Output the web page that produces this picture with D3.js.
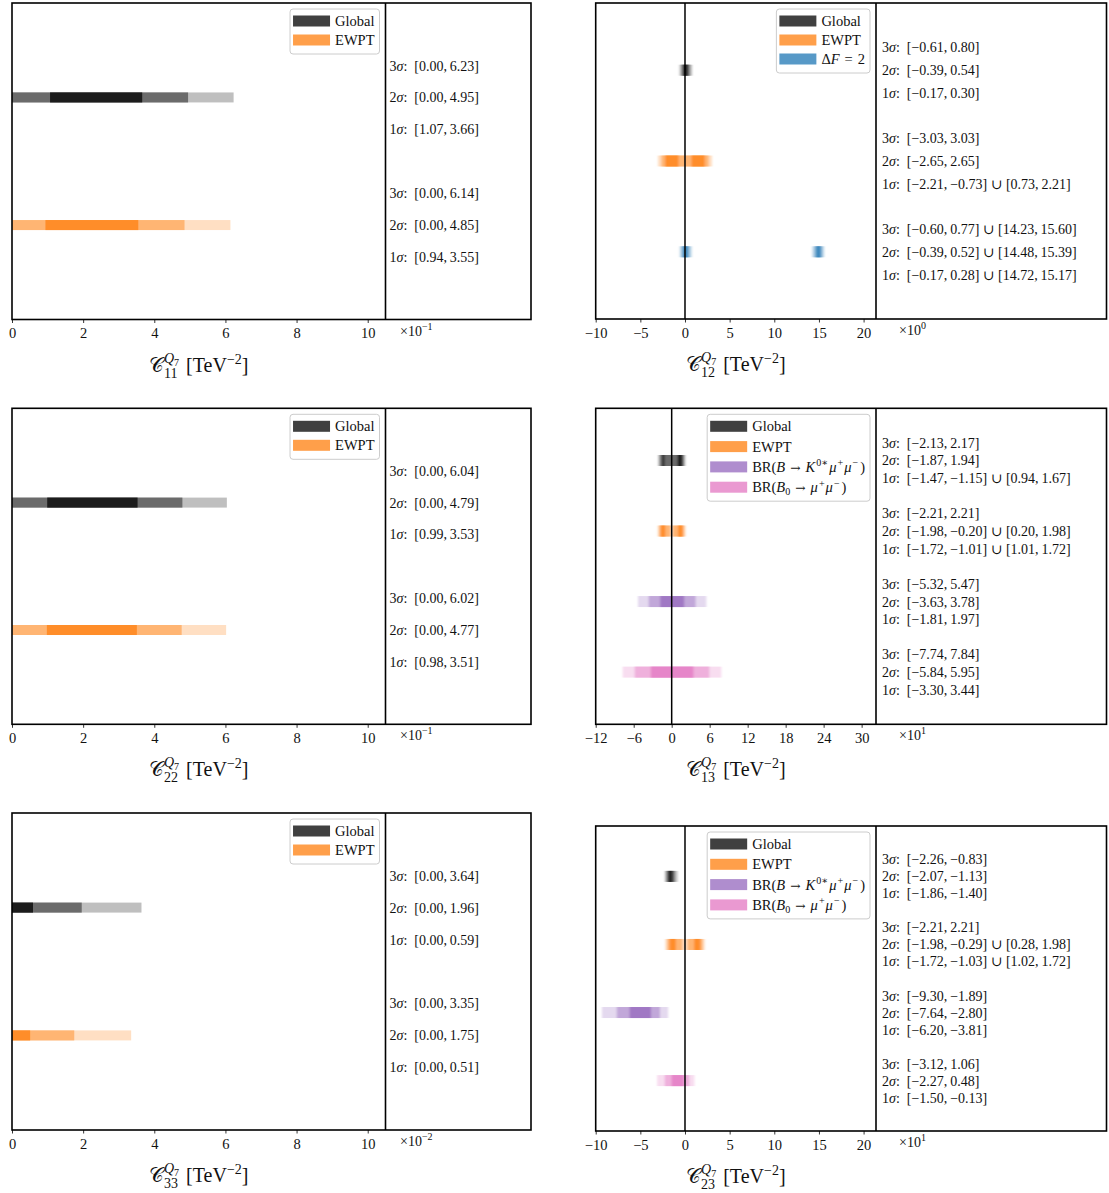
<!DOCTYPE html>
<html>
<head>
<meta charset="utf-8">
<script src="https://cdn.jsdelivr.net/npm/d3@7"></script>
<style>
  body { margin: 0; background: #fff; }
  text { font-family: "Liberation Serif", "DejaVu Serif", serif; fill: #111; }
</style>
</head>
<body>
<svg id="chart" width="1109" height="1193"></svg>
<script>
// sigma levels, drawn from the widest to the narrowest
var levels = ["3", "2", "1"];
var levelAlpha = [0.25, 0.58, 0.89];

// series and their base colours
var seriesNames = ["Global", "EWPT", "ΔF = 2", "BR(B → K0*μμ)", "BR(B0 → μμ)"];
var seriesColors = ["#000000", "#ff7f0e", "#1f77b4", "#9467bd", "#e377c2"];

// C11 (x 10^-1)
var c11Series = ["Global", "EWPT"];
var c11Sigma3 = [[[0.00, 6.23]], [[0.00, 6.14]]];
var c11Sigma2 = [[[0.00, 4.95]], [[0.00, 4.85]]];
var c11Sigma1 = [[[1.07, 3.66]], [[0.94, 3.55]]];
var c11Ticks = [0, 2, 4, 6, 8, 10];

// C12 (x 10^0)
var c12Series = ["Global", "EWPT", "ΔF = 2"];
var c12Sigma3 = [[[-0.61, 0.80]], [[-3.03, 3.03]], [[-0.60, 0.77], [14.23, 15.60]]];
var c12Sigma2 = [[[-0.39, 0.54]], [[-2.65, 2.65]], [[-0.39, 0.52], [14.48, 15.39]]];
var c12Sigma1 = [[[-0.17, 0.30]], [[-2.21, -0.73], [0.73, 2.21]], [[-0.17, 0.28], [14.72, 15.17]]];
var c12Ticks = [-10, -5, 0, 5, 10, 15, 20];

// C22 (x 10^-1)
var c22Series = ["Global", "EWPT"];
var c22Sigma3 = [[[0.00, 6.04]], [[0.00, 6.02]]];
var c22Sigma2 = [[[0.00, 4.79]], [[0.00, 4.77]]];
var c22Sigma1 = [[[0.99, 3.53]], [[0.98, 3.51]]];
var c22Ticks = [0, 2, 4, 6, 8, 10];

// C13 (x 10^1)
var c13Series = ["Global", "EWPT", "BR(B → K0*μμ)", "BR(B0 → μμ)"];
var c13Sigma3 = [[[-2.13, 2.17]], [[-2.21, 2.21]], [[-5.32, 5.47]], [[-7.74, 7.84]]];
var c13Sigma2 = [[[-1.87, 1.94]], [[-1.98, -0.20], [0.20, 1.98]], [[-3.63, 3.78]], [[-5.84, 5.95]]];
var c13Sigma1 = [[[-1.47, -1.15], [0.94, 1.67]], [[-1.72, -1.01], [1.01, 1.72]], [[-1.81, 1.97]], [[-3.30, 3.44]]];
var c13Ticks = [-12, -6, 0, 6, 12, 18, 24, 30];

// C33 (x 10^-2)
var c33Series = ["Global", "EWPT"];
var c33Sigma3 = [[[0.00, 3.64]], [[0.00, 3.35]]];
var c33Sigma2 = [[[0.00, 1.96]], [[0.00, 1.75]]];
var c33Sigma1 = [[[0.00, 0.59]], [[0.00, 0.51]]];
var c33Ticks = [0, 2, 4, 6, 8, 10];

// C23 (x 10^1)
var c23Series = ["Global", "EWPT", "BR(B → K0*μμ)", "BR(B0 → μμ)"];
var c23Sigma3 = [[[-2.26, -0.83]], [[-2.21, 2.21]], [[-9.30, -1.89]], [[-3.12, 1.06]]];
var c23Sigma2 = [[[-2.07, -1.13]], [[-1.98, -0.29], [0.28, 1.98]], [[-7.64, -2.80]], [[-2.27, 0.48]]];
var c23Sigma1 = [[[-1.86, -1.40]], [[-1.72, -1.03], [1.02, 1.72]], [[-6.20, -3.81]], [[-1.50, -0.13]]];
var c23Ticks = [-10, -5, 0, 5, 10, 15, 20];

// legend labels with a bit of math markup (dx = extra math spacing)
var legendMath = {
    "Global": [{t: "Global"}],
    "EWPT": [{t: "EWPT"}],
    "ΔF = 2": [{t: "Δ"}, {t: "F", i: 1}, {t: "=", dx: 5}, {t: "2", dx: 5}],
    "BR(B → K0*μμ)": [{t: "BR("}, {t: "B", i: 1}, {t: "→", big: 1, dx: 5}, {t: "K", i: 1, dx: 5},
        {t: "0∗", sup: 1, dx: 1}, {t: "μ", i: 1, dx: 1}, {t: "+", sup: 1, dx: 1}, {t: "μ", i: 1, dx: 1},
        {t: "−", sup: 1, dx: 1}, {t: ")", dx: 2}],
    "BR(B0 → μμ)": [{t: "BR("}, {t: "B", i: 1}, {t: "0", sub: 1}, {t: "→", big: 1, dx: 5},
        {t: "μ", i: 1, dx: 5}, {t: "+", sup: 1, dx: 1}, {t: "μ", i: 1, dx: 1}, {t: "−", sup: 1, dx: 1},
        {t: ")", dx: 2}]
};

var leftCol = {left: 12, right: 531, div: 385.5, textX: 389.5, offX: 400, barH: 10};
var rightCol = {left: 595.7, right: 1106.5, div: 876, textX: 882, offX: 899, barH: 11};

var panels = [
    {col: leftCol, top: 3, bottom: 319.5, domain: [0, 10.5], sub: "11", exp: "−1", zero: false,
        series: c11Series, s3: c11Sigma3, s2: c11Sigma2, s1: c11Sigma1, ticks: c11Ticks},
    {col: rightCol, top: 3, bottom: 319, domain: [-10, 21.39], sub: "12", exp: "0", zero: true,
        series: c12Series, s3: c12Sigma3, s2: c12Sigma2, s1: c12Sigma1, ticks: c12Ticks},
    {col: leftCol, top: 408.3, bottom: 724.3, domain: [0, 10.5], sub: "22", exp: "−1", zero: false,
        series: c22Series, s3: c22Sigma3, s2: c22Sigma2, s1: c22Sigma1, ticks: c22Ticks},
    {col: rightCol, top: 408.3, bottom: 724.3, domain: [-12, 32.27], sub: "13", exp: "1", zero: true,
        series: c13Series, s3: c13Sigma3, s2: c13Sigma2, s1: c13Sigma1, ticks: c13Ticks},
    {col: leftCol, top: 813, bottom: 1130, domain: [0, 10.5], sub: "33", exp: "−2", zero: false,
        series: c33Series, s3: c33Sigma3, s2: c33Sigma2, s1: c33Sigma1, ticks: c33Ticks},
    {col: rightCol, top: 826, bottom: 1131, domain: [-10, 21.39], sub: "23", exp: "1", zero: true,
        series: c23Series, s3: c23Sigma3, s2: c23Sigma2, s1: c23Sigma1, ticks: c23Ticks}
];

var svg = d3.select("#chart");
var fmt = d3.format(".2f");

svg.append("defs").append("filter")
    .attr("id", "soft")
    .attr("x", "-20%").attr("width", "140%")
    .append("feGaussianBlur")
    .attr("stdDeviation", "1.1 0");

function colorOf(name) {
    return seriesColors[seriesNames.indexOf(name)];
}

// writes text segments with italics / super / subscripts, returns extra dx used
function richText(sel, segs, size) {
    var shift = 0, extra = 0;
    segs.forEach(function (s) {
        var target = s.sup ? -0.38 * size : (s.sub ? 0.22 * size : 0);
        var ts = sel.append("tspan").text(s.t);
        if (target - shift !== 0) ts.attr("dy", target - shift);
        if (s.dx) { ts.attr("dx", s.dx); extra += s.dx; }
        if (s.sup || s.sub) ts.style("font-size", (0.7 * size) + "px");
        if (s.big) ts.style("font-family", "DejaVu Serif, serif").style("font-size", (0.85 * size) + "px");
        if (s.i) ts.style("font-style", "italic");
        shift = target;
    });
    return extra;
}

panels.forEach(function (p) {
    var c = p.col;
    var g = svg.append("g");

    var x = d3.scaleLinear().domain(p.domain).range([c.left, c.div]);
    var y = d3.scalePoint().domain(p.series).range([p.top, p.bottom]).padding(0.74);
    var step = y.step();

    // bars
    var bars = g.append("g");
    if (p.zero) bars.attr("filter", "url(#soft)");
    [p.s3, p.s2, p.s1].forEach(function (lev, li) {
        p.series.forEach(function (name, si) {
            var fill = d3.interpolateRgb("#ffffff", colorOf(name))(levelAlpha[li]);
            bars.selectAll(null)
                .data(lev[si])
                .enter()
                .append("rect")
                .attr("x", function (d) { return x(d[0]); })
                .attr("width", function (d) { return Math.max(0.5, x(d[1]) - x(d[0])); })
                .attr("y", y(name) - c.barH / 2)
                .attr("height", c.barH)
                .attr("fill", fill);
        });
    });

    // zero line
    if (p.zero) {
        g.append("line")
            .attr("x1", x(0)).attr("x2", x(0))
            .attr("y1", p.top).attr("y2", p.bottom)
            .attr("stroke", "#000").attr("stroke-width", 1.5);
    }

    // interval texts
    p.series.forEach(function (name, si) {
        [p.s3, p.s2, p.s1].forEach(function (lev, li) {
            var t = g.append("text")
                .attr("x", c.textX)
                .attr("y", y(name) + (li - 1) * step / 4 + 5)
                .style("font-size", "14px");
            t.append("tspan").text(levels[li]);
            t.append("tspan").style("font-style", "italic").text("σ");
            var str = lev[si].map(function (d) {
                return "[" + fmt(d[0]) + ",\u2009" + fmt(d[1]) + "]";
            }).join(" ∪ ");
            t.append("tspan").text(":\u2002" + str);
        });
    });

    // frame and divider
    g.append("rect")
        .attr("x", c.left).attr("y", p.top)
        .attr("width", c.right - c.left).attr("height", p.bottom - p.top)
        .attr("fill", "none").attr("stroke", "#000").attr("stroke-width", 1.6);
    g.append("line")
        .attr("x1", c.div).attr("x2", c.div)
        .attr("y1", p.top).attr("y2", p.bottom)
        .attr("stroke", "#000").attr("stroke-width", 1.6);

    // x axis
    var axis = g.append("g")
        .attr("transform", "translate(0," + p.bottom + ")")
        .call(d3.axisBottom(x).tickValues(p.ticks).tickFormat(d3.format("d"))
            .tickSize(3.5).tickSizeOuter(0).tickPadding(5));
    axis.attr("font-size", null).attr("font-family", null);
    axis.select(".domain").remove();
    axis.selectAll(".tick line").attr("stroke", "#000").attr("stroke-width", 0.8);
    axis.selectAll(".tick text")
        .style("font-size", "14.5px")
        .attr("fill", "#111");

    // offset text
    var off = g.append("text")
        .attr("x", c.offX).attr("y", p.bottom + 16)
        .style("font-size", "14px");
    off.append("tspan").text("×10");
    off.append("tspan").attr("dy", -6).style("font-size", "10px").text(p.exp);

    // axis label
    var lab = g.append("text")
        .attr("x", (c.left + c.div) / 2)
        .attr("y", p.bottom + 52)
        .attr("text-anchor", "middle")
        .style("font-size", "20px");
    lab.append("tspan").text("𝒞");
    var sb = lab.append("tspan").attr("dy", 6).style("font-size", "14px").text(p.sub);
    var w = sb.node().getComputedTextLength();
    lab.append("tspan").attr("dx", -w).attr("dy", -15)
        .style("font-size", "14px").style("font-style", "italic").text("Q");
    lab.append("tspan").attr("dy", 3).style("font-size", "10px").text("7");
    lab.append("tspan").attr("dx", 7).attr("dy", 6).text("[TeV");
    lab.append("tspan").attr("dy", -8).style("font-size", "14px").text("−2");
    lab.append("tspan").attr("dy", 8).text("]");

    // legend
    var lg = g.append("g");
    var rowH = p.series.length > 3 ? 20.3 : 19;
    var items = lg.selectAll("g.item")
        .data(p.series)
        .enter()
        .append("g")
        .attr("class", "item");
    var maxW = 0;
    items.each(function (name) {
        var t = d3.select(this).append("text")
            .attr("x", 42)
            .attr("y", 5)
            .style("font-size", "14.5px");
        var extra = richText(t, legendMath[name], 14.5);
        maxW = Math.max(maxW, t.node().getComputedTextLength() + extra);
    });
    items.insert("rect", "text")
        .attr("x", 0).attr("y", -5.5)
        .attr("width", 37).attr("height", 11)
        .attr("fill", function (name) { return d3.interpolateRgb("#ffffff", colorOf(name))(0.75); });
    var boxW = 42 + maxW + 8;
    var boxH = 12 + rowH * (p.series.length - 1) + 14;
    var lx = c.div - 6 - boxW;
    var ly = p.top + 6;
    items.attr("transform", function (d, i) {
        return "translate(" + (lx + 3) + "," + (ly + 12 + i * rowH) + ")";
    });
    lg.insert("rect", "g")
        .attr("x", lx).attr("y", ly)
        .attr("width", boxW).attr("height", boxH)
        .attr("rx", 3)
        .attr("fill", "#fff").attr("fill-opacity", 0.8)
        .attr("stroke", "#cccccc").attr("stroke-width", 1);
});
</script>
</body>
</html>
